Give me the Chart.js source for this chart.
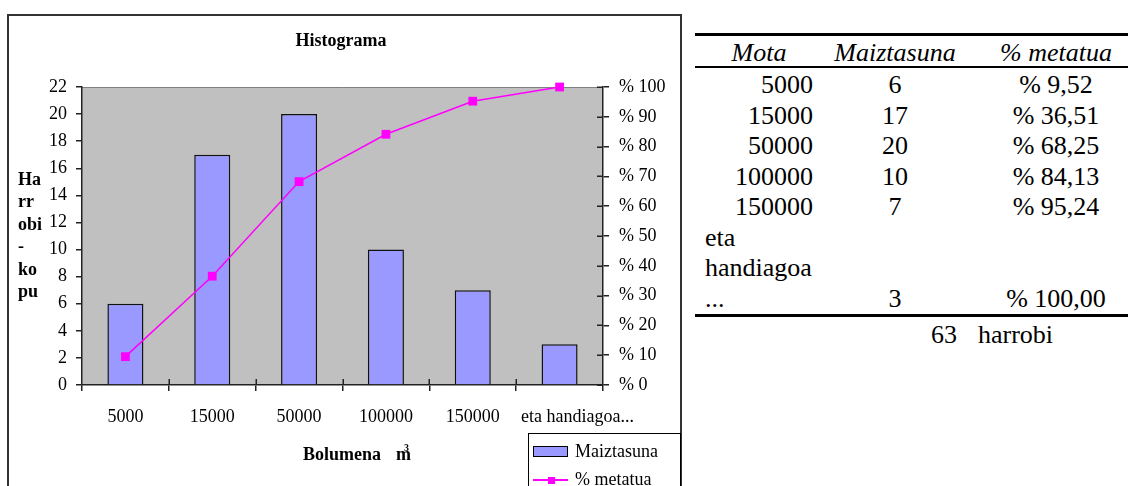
<!DOCTYPE html>
<html>
<head>
<meta charset="utf-8">
<title>Histograma</title>
<script src="https://cdn.jsdelivr.net/npm/chart.js@4/dist/chart.umd.min.js"></script>
<style>
  html, body { margin: 0; padding: 0; background: #fff; }
  body { width: 1128px; height: 486px; overflow: hidden; position: relative;
         font-family: 'Liberation Serif', 'Times New Roman', serif; color: #000; }
  #frame { position: absolute; left: 7px; top: 14px; width: 671px; height: 500px;
           border: 2px solid #333; }
  #chart { position: absolute; left: 10px; top: 17px; }
  #ytitle { position: absolute; left: 18px; top: 167.7px; font-weight: bold; font-size: 18px; line-height: 22.5px; }
  .xt { position: absolute; font-weight: bold; line-height: 1; white-space: nowrap; }
  #legend { position: absolute; left: 528px; top: 433px; width: 151px; height: 80px; border: 1px solid #000; background: #fff; }
  .lg { position: absolute; font-size: 18px; line-height: 1; white-space: nowrap; }
  #table .cell { position: absolute; font-family: 'Liberation Serif', 'Times New Roman', serif;
                 font-size: 26px; line-height: 30.5px; white-space: nowrap; }
  #table .rule { position: absolute; left: 695px; width: 433px; }
</style>
</head>
<body>
<div id="frame"></div>
<canvas id="chart" width="662" height="469"></canvas>
<div id="ytitle"></div>
<div id="xtitle"></div>
<div id="legend"></div>
<div id="table"></div>
<script>
// Quarry volume classes and their counts
const categories = ['5000', '15000', '50000', '100000', '150000', 'eta handiagoa...'];
const frequency = [6, 17, 20, 10, 7, 3];
const cumulativePct = [9.52, 36.51, 68.25, 84.13, 95.24, 100.00];
const seriesNames = ['Maiztasuna', '% metatua'];
const tableHeaders = ['Mota', 'Maiztasuna', '% metatua'];
const countAxis = { min: 0, max: 22, step: 2 };
const pctAxis = { min: 0, max: 100, step: 10 };
const chartTitle = 'Histograma';
const yTitleLines = ['Ha', 'rr', 'obi', '-', 'ko', 'pu'];
const xTitle = 'Bolumena';
const unitLabel = 'm';
const unitPower = '3';
const totalUnit = 'harrobi';

const BAR_FILL = '#9999FF';
const LINE_COLOR = '#FF00FF';
const AXIS = '#222';

Chart.defaults.font.family = "'Liberation Serif', 'Times New Roman', serif";
Chart.defaults.font.size = 18;
Chart.defaults.color = '#000';

// grey plotting area with a light outline on top
const plotBackground = {
  id: 'plotBackground',
  beforeDraw(chart) {
    const { ctx, chartArea: a } = chart;
    ctx.save();
    ctx.fillStyle = '#C0C0C0';
    ctx.fillRect(a.left, a.top, a.right - a.left, a.bottom - a.top);
    ctx.strokeStyle = '#808080';
    ctx.lineWidth = 1;
    ctx.beginPath();
    ctx.moveTo(a.left, a.top + 0.5);
    ctx.lineTo(a.right, a.top + 0.5);
    ctx.stroke();
    ctx.restore();
    // the long last category label sits a little to the right of its slot
    const x = chart.scales.x;
    const items = x.getLabelItems(chart.chartArea);
    const last = items[items.length - 1];
    if (last && !last._shifted) {
      last.options.translation[0] += 18;
      last._shifted = true;
    }
  }
};

// tick marks that also reach into the plot (right axis and category boundaries)
const innerTicks = {
  id: 'innerTicks',
  beforeDatasetsDraw(chart) {
    const { ctx, chartArea: a } = chart;
    const y1 = chart.scales.y1, x = chart.scales.x;
    const len = 6;
    ctx.save();
    ctx.strokeStyle = AXIS;
    ctx.lineWidth = 1.5;
    ctx.beginPath();
    y1.ticks.forEach((t, i) => {
      const py = Math.round(y1.getPixelForTick(i)) + 0.25;
      ctx.moveTo(a.right - len, py);
      ctx.lineTo(a.right, py);
    });
    for (let i = 1; i < categories.length; i++) {
      const px = Math.round(x.getPixelForValue(i - 0.5)) + 0.25;
      ctx.moveTo(px, a.bottom - len);
      ctx.lineTo(px, a.bottom);
    }
    ctx.stroke();
    ctx.restore();
  }
};

const axisGrid = { drawOnChartArea: false, drawTicks: true, tickLength: 6, color: AXIS, lineWidth: 1.5 };
const axisBorder = { display: true, color: AXIS, width: 1.5 };

const chart = new Chart(document.getElementById('chart'), {
  type: 'bar',
  data: {
    labels: categories,
    datasets: [
      {
        type: 'line',
        label: seriesNames[1],
        data: cumulativePct,
        yAxisID: 'y1',
        borderColor: LINE_COLOR,
        backgroundColor: LINE_COLOR,
        borderWidth: 1.5,
        tension: 0,
        pointStyle: 'rect',
        pointRadius: 6.2,
        pointBackgroundColor: LINE_COLOR,
        pointBorderColor: LINE_COLOR,
        pointBorderWidth: 0,
        clip: false,
        order: 0
      },
      {
        type: 'bar',
        label: seriesNames[0],
        data: frequency,
        yAxisID: 'y',
        backgroundColor: BAR_FILL,
        borderColor: '#111',
        borderWidth: 1.5,
        barPercentage: 0.415,
        categoryPercentage: 1,
        order: 1
      }
    ]
  },
  options: {
    responsive: false,
    animation: false,
    events: [],
    layout: { padding: 0 },
    plugins: {
      legend: { display: false },
      tooltip: { enabled: false },
      title: {
        display: true,
        text: chartTitle,
        color: '#000',
        font: { size: 18, weight: 'bold', lineHeight: 1.2 },
        padding: { top: 14, bottom: 34.4 }
      }
    },
    scales: {
      x: {
        grid: Object.assign({ offset: true }, axisGrid),
        border: axisBorder,
        ticks: { padding: 15, maxRotation: 0, minRotation: 0, autoSkip: false },
        afterFit(s) { s.height = 101; }
      },
      y: {
        position: 'left',
        min: countAxis.min,
        max: countAxis.max,
        ticks: { stepSize: countAxis.step, padding: 9 },
        grid: axisGrid,
        border: axisBorder,
        afterFit(s) { s.width = 72; }
      },
      y1: {
        position: 'right',
        min: pctAxis.min,
        max: pctAxis.max,
        ticks: { stepSize: pctAxis.step, padding: 10, callback: v => '% ' + v },
        grid: axisGrid,
        border: axisBorder,
        afterFit(s) { s.width = 69; }
      }
    }
  },
  plugins: [plotBackground, innerTicks]
});

// axis titles
document.getElementById('ytitle').innerHTML = yTitleLines.join('<br>');
document.getElementById('xtitle').innerHTML =
  '<span class="xt" style="left:303px;top:445px;font-size:18px">' + xTitle + '</span>' +
  '<span class="xt" style="left:396px;top:445px;font-size:18px">' + unitLabel + '</span>' +
  '<span class="xt" style="left:404px;top:442.6px;font-size:10px">' + unitPower + '</span>';

// legend built from the chart datasets
(function buildLegend() {
  const bar = chart.data.datasets[1], line = chart.data.datasets[0];
  const lg = document.getElementById('legend');
  const ox = 528, oy = 433;
  const at = (x, y) => 'left:' + (x - ox - 1) + 'px;top:' + (y - oy - 1) + 'px;';
  lg.innerHTML =
    '<div style="position:absolute;' + at(533, 446) + 'width:35px;height:11px;box-sizing:border-box;border:1px solid #000;background:' + bar.backgroundColor + '"></div>' +
    '<div class="lg" style="' + at(575, 441.6) + '">' + bar.label + '</div>' +
    '<div style="position:absolute;' + at(533, 479.3) + 'width:35px;height:1.5px;background:' + line.borderColor + '"></div>' +
    '<div style="position:absolute;' + at(547.5, 476.5) + 'width:7px;height:7px;background:' + line.borderColor + '"></div>' +
    '<div class="lg" style="' + at(575, 469.5) + '">' + line.label + '</div>';
})();

// frequency table
(function buildTable() {
  const tb = document.getElementById('table');
  const fmtPct = v => '% ' + v.toFixed(2).replace('.', ',');
  let html = '';
  const cell = (text, left, width, top, align, extra) =>
    '<div class="cell" style="left:' + left + 'px;width:' + width + 'px;top:' + top + 'px;text-align:' + align + ';' + (extra || '') + '">' + text + '</div>';
  const col1 = [705, 108], col2 = [832, 126], col3 = [978, 156];
  html += '<div class="rule" style="top:33px;height:3px;background:#000"></div>';
  html += cell(tableHeaders[0], col1[0], col1[1], 37.7, 'center', 'font-style:italic');
  html += cell(tableHeaders[1], col2[0], col2[1], 37.7, 'center', 'font-style:italic');
  html += cell(tableHeaders[2], col3[0], col3[1], 37.7, 'center', 'font-style:italic');
  html += '<div class="rule" style="top:66px;height:1.5px;background:#000"></div>';
  let top = 70;
  categories.forEach((c, i) => {
    const isText = isNaN(Number(c));
    if (isText) {
      const lines = c.replace('...', ' ...').split(' ');
      html += cell(lines.join('<br>'), col1[0], col1[1] + 20, top, 'left');
      const lastTop = top + (lines.length - 1) * 30.5;
      html += cell(String(frequency[i]), col2[0], col2[1], lastTop, 'center');
      html += cell(fmtPct(cumulativePct[i]), col3[0], col3[1], lastTop, 'center');
      top += lines.length * 30.5;
    } else {
      html += cell(c, col1[0], col1[1], top, 'right');
      html += cell(String(frequency[i]), col2[0], col2[1], top, 'center');
      html += cell(fmtPct(cumulativePct[i]), col3[0], col3[1], top, 'center');
      top += 30.5;
    }
  });
  const total = frequency.reduce((a, b) => a + b, 0);
  html += '<div class="rule" style="top:' + top + 'px;height:3px;background:#000"></div>';
  html += cell(String(total), col2[0], col2[1] - 1, top + 5.5, 'right');
  html += cell(totalUnit, col3[0], col3[1], top + 5.5, 'left');
  tb.innerHTML = html;
})();
</script>
</body>
</html>
